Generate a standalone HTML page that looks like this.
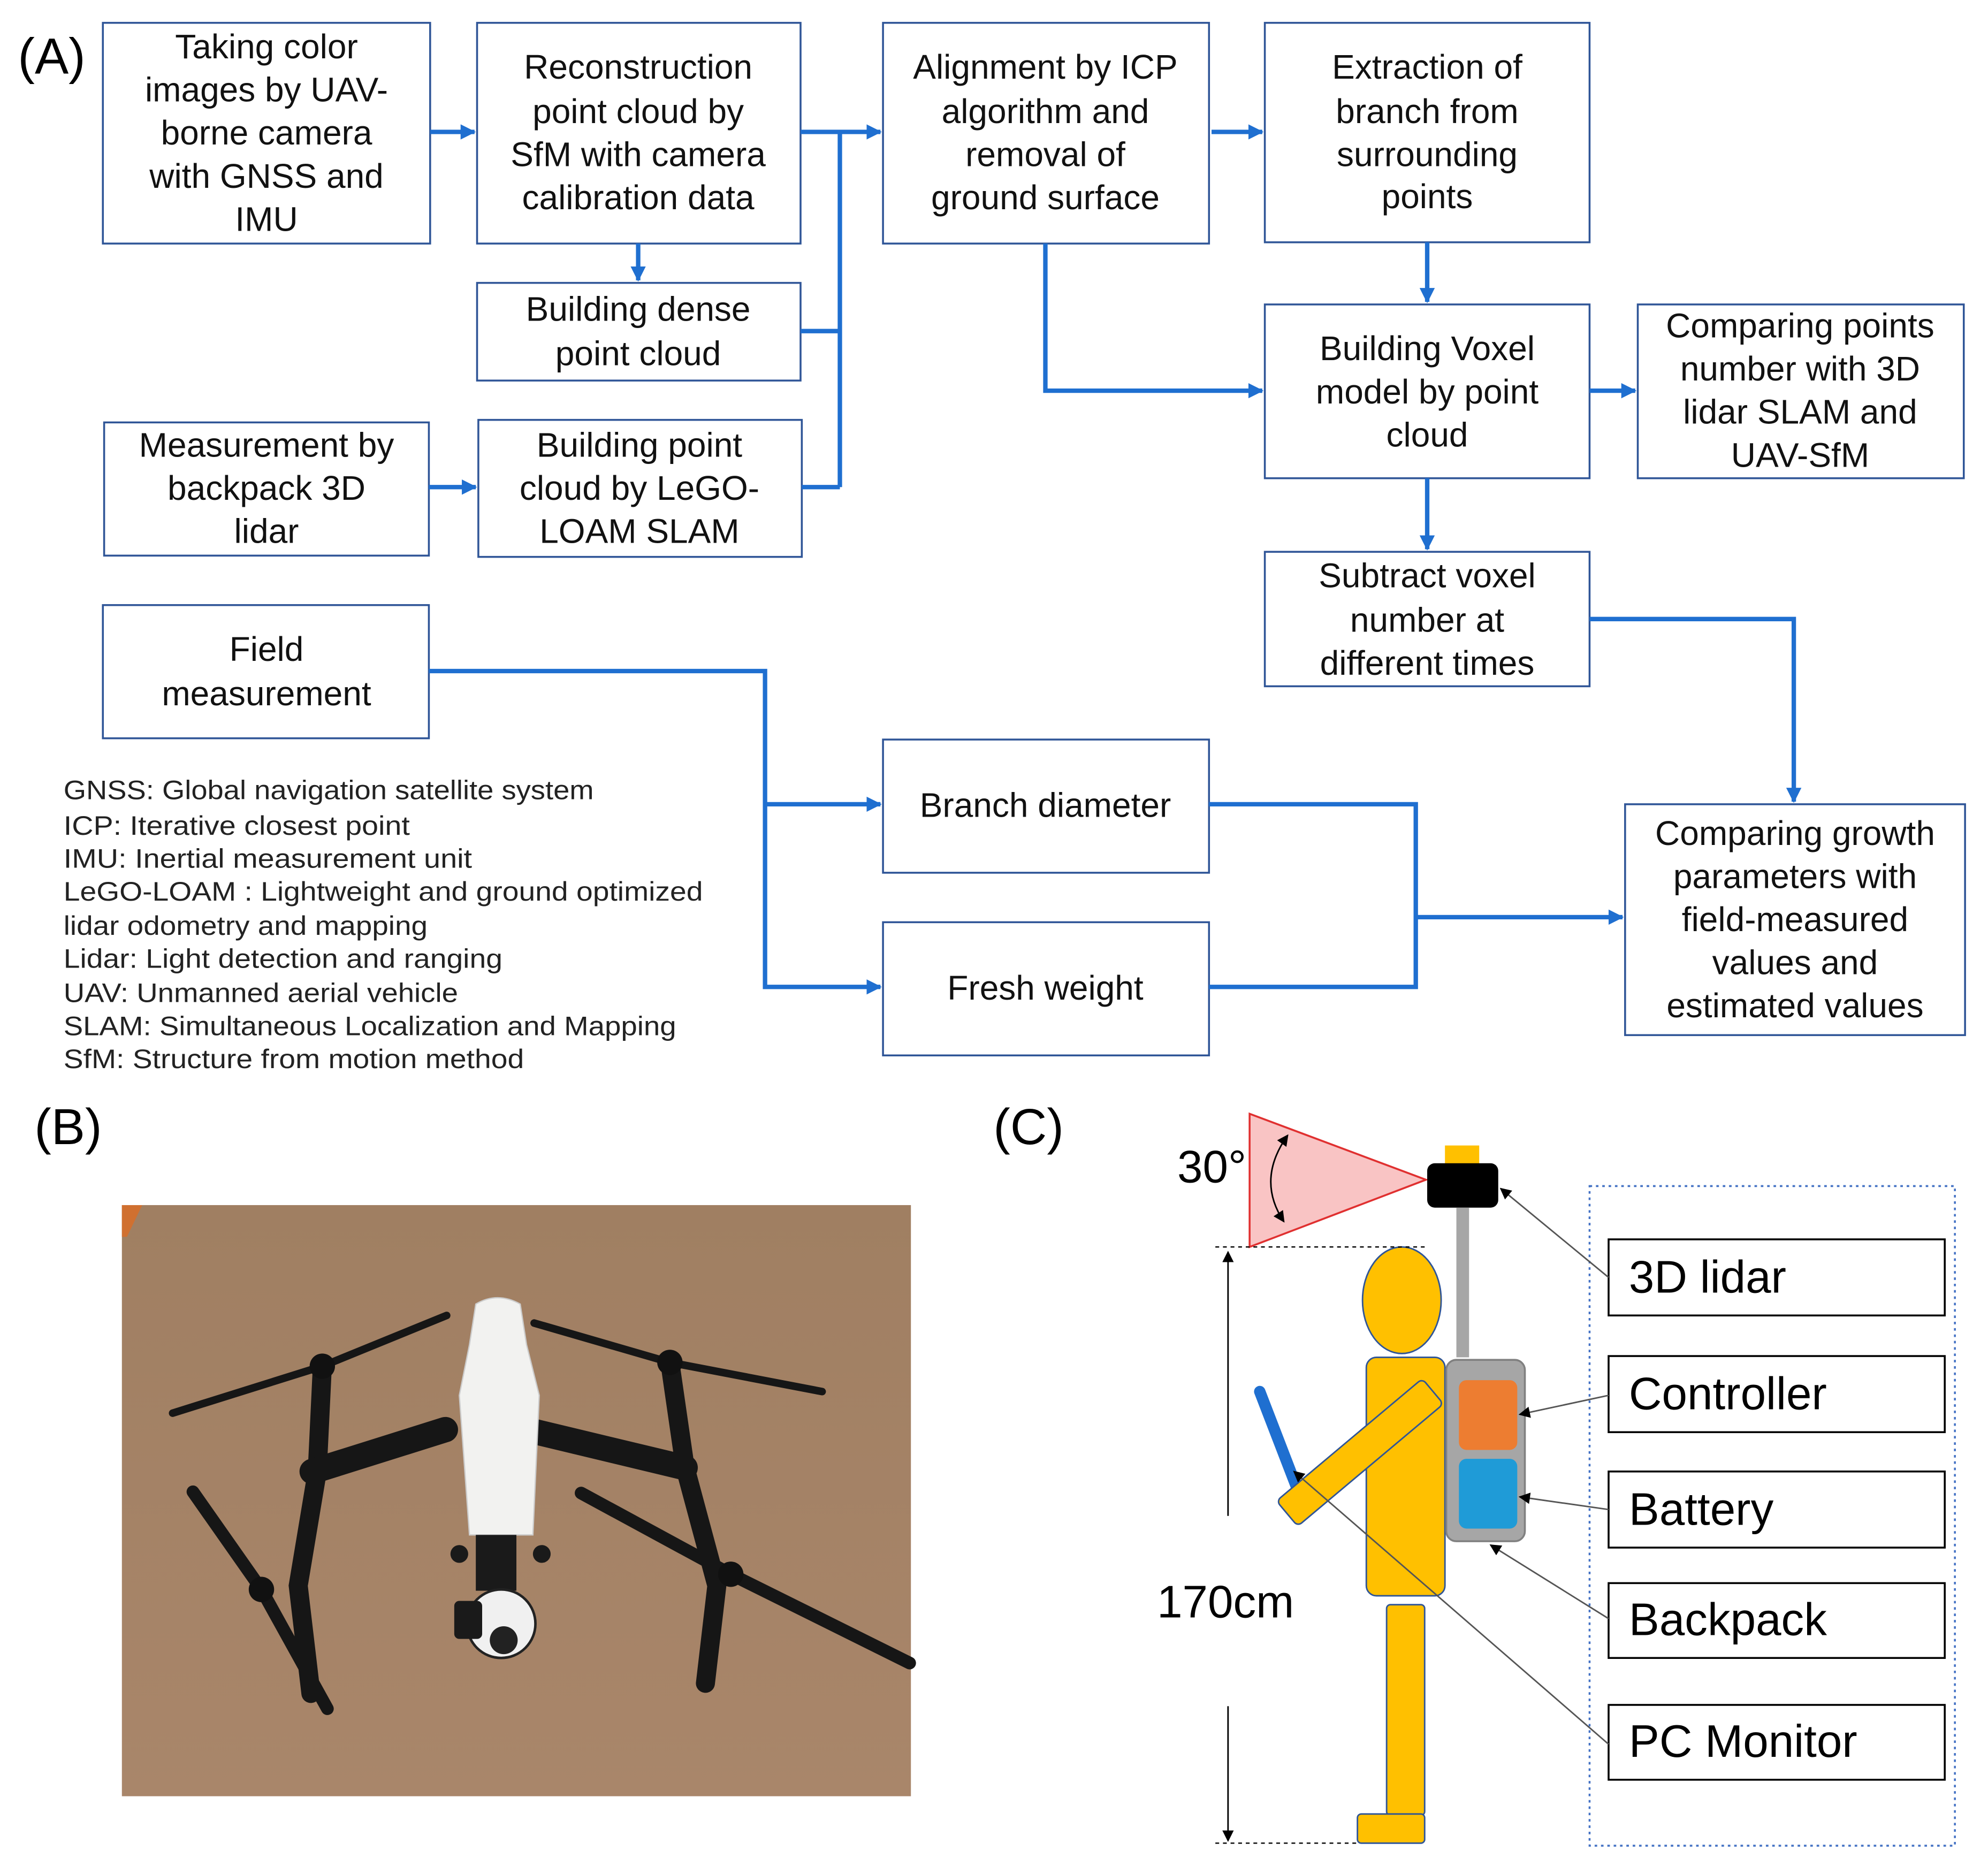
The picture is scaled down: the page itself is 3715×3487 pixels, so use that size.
<!DOCTYPE html>
<html><head><meta charset="utf-8"><style>
html,body{margin:0;padding:0;background:#fff}
svg{display:block}
text{font-family:"Liberation Sans",sans-serif}
</style></head><body>
<svg width="3715" height="3487" viewBox="0 0 1567 1471" xmlns="http://www.w3.org/2000/svg">
<defs>
<marker id="ab" markerWidth="12" markerHeight="12" refX="11" refY="6" orient="auto" markerUnits="userSpaceOnUse"><path d="M0,0 L12,6 L0,12 z" fill="#1f6fd0"/></marker>
<marker id="ak" markerWidth="9" markerHeight="9" refX="8" refY="4.5" orient="auto" markerUnits="userSpaceOnUse"><path d="M0,0 L9,4.5 L0,9 z" fill="#000"/></marker>
<marker id="ak2" markerWidth="9" markerHeight="9" refX="1" refY="4.5" orient="auto" markerUnits="userSpaceOnUse"><path d="M9,0 L0,4.5 L9,9 z" fill="#000"/></marker>
<linearGradient id="fl" x1="0" y1="0" x2="0" y2="1"><stop offset="0" stop-color="#a07f62"/><stop offset="1" stop-color="#a9866a"/></linearGradient>
</defs>
<text x="14" y="58" font-size="40">(A)</text>
<g fill="#fff" stroke="#2f5597" stroke-width="1.5">
<rect x="81" y="18" width="258" height="174"/>
<rect x="376" y="18" width="255" height="174"/>
<rect x="696" y="18" width="257" height="174"/>
<rect x="997" y="18" width="256" height="173"/>
<rect x="376" y="223" width="255" height="77"/>
<rect x="82" y="333" width="256" height="105"/>
<rect x="377" y="331" width="255" height="108"/>
<rect x="997" y="240" width="256" height="137"/>
<rect x="1291" y="240" width="257" height="137"/>
<rect x="997" y="435" width="256" height="106"/>
<rect x="81" y="477" width="257" height="105"/>
<rect x="696" y="583" width="257" height="105"/>
<rect x="696" y="727" width="257" height="105"/>
<rect x="1281" y="634" width="268" height="182"/>
</g>
<g font-size="27" text-anchor="middle" fill="#111">
<text x="210" y="46">Taking color</text><text x="210" y="80">images by UAV-</text><text x="210" y="114">borne camera</text><text x="210" y="148">with GNSS and</text><text x="210" y="182">IMU</text>
<text x="503" y="62">Reconstruction</text><text x="503" y="97">point cloud by</text><text x="503" y="131">SfM with camera</text><text x="503" y="165">calibration data</text>
<text x="824" y="62">Alignment by ICP</text><text x="824" y="97">algorithm and</text><text x="824" y="131">removal of</text><text x="824" y="165">ground surface</text>
<text x="1125" y="62">Extraction of</text><text x="1125" y="97">branch from</text><text x="1125" y="131">surrounding</text><text x="1125" y="164">points</text>
<text x="503" y="253">Building dense</text><text x="503" y="288">point cloud</text>
<text x="210" y="360">Measurement by</text><text x="210" y="394">backpack  3D</text><text x="210" y="428">lidar</text>
<text x="504" y="360">Building point</text><text x="504" y="394">cloud by LeGO-</text><text x="504" y="428">LOAM SLAM</text>
<text x="1125" y="284">Building Voxel</text><text x="1125" y="318">model by point</text><text x="1125" y="352">cloud</text>
<text x="1419" y="266">Comparing points</text><text x="1419" y="300">number with 3D</text><text x="1419" y="334">lidar SLAM and</text><text x="1419" y="368">UAV-SfM</text>
<text x="1125" y="463">Subtract voxel</text><text x="1125" y="498">number at</text><text x="1125" y="532">different times</text>
<text x="210" y="521">Field</text><text x="210" y="556">measurement</text>
<text x="824" y="644">Branch diameter</text>
<text x="824" y="788">Fresh weight</text>
<text x="1415" y="666">Comparing growth</text><text x="1415" y="700">parameters with</text><text x="1415" y="734">field-measured</text><text x="1415" y="768">values and</text><text x="1415" y="802">estimated values</text>
</g>
<g stroke="#1f6fd0" stroke-width="3.5" fill="none">
<path d="M339,104 H374" marker-end="url(#ab)"/>
<path d="M631,104 H694" marker-end="url(#ab)"/>
<path d="M662,104 V384 M631,261 H662 M632,384 H662"/>
<path d="M503,192 V221" marker-end="url(#ab)"/>
<path d="M338,384 H375" marker-end="url(#ab)"/>
<path d="M955,104 H995" marker-end="url(#ab)"/>
<path d="M1125,191 V238" marker-end="url(#ab)"/>
<path d="M824,192 V308 H995" marker-end="url(#ab)"/>
<path d="M1253,308 H1289" marker-end="url(#ab)"/>
<path d="M1125,377 V433" marker-end="url(#ab)"/>
<path d="M1253,488 H1414 V632" marker-end="url(#ab)"/>
<path d="M338,529 H603 V778 H694" marker-end="url(#ab)"/>
<path d="M603,634 H694" marker-end="url(#ab)"/>
<path d="M953,634 H1116 V778 H953"/>
<path d="M1116,723 H1279" marker-end="url(#ab)"/>
</g>
<g font-size="21" fill="#222">
<text x="50" y="630" textLength="418" lengthAdjust="spacingAndGlyphs">GNSS: Global navigation satellite system</text>
<text x="50" y="658" textLength="273" lengthAdjust="spacingAndGlyphs">ICP: Iterative closest point</text>
<text x="50" y="684" textLength="322" lengthAdjust="spacingAndGlyphs">IMU: Inertial measurement unit</text>
<text x="50" y="710" textLength="504" lengthAdjust="spacingAndGlyphs">LeGO-LOAM :  Lightweight and ground optimized</text>
<text x="50" y="737" textLength="287" lengthAdjust="spacingAndGlyphs">lidar odometry and mapping</text>
<text x="50" y="763" textLength="346" lengthAdjust="spacingAndGlyphs">Lidar: Light detection and ranging</text>
<text x="50" y="790" textLength="311" lengthAdjust="spacingAndGlyphs">UAV: Unmanned aerial vehicle</text>
<text x="50" y="816" textLength="483" lengthAdjust="spacingAndGlyphs">SLAM: Simultaneous Localization and Mapping</text>
<text x="50" y="842" textLength="363" lengthAdjust="spacingAndGlyphs">SfM: Structure from motion method</text>
</g>
<text x="27" y="902" font-size="40">(B)</text>
<text x="783" y="902" font-size="40">(C)</text>
<!-- photo -->
<rect x="96" y="950" width="622" height="466" fill="url(#fl)"/>
<path d="M96,950 H112 L100,975 H96 Z" fill="#d07030"/>
<g stroke="#161616" stroke-linecap="round" fill="none">
<path d="M136,1114 L254,1077 L352,1037" stroke-width="6"/>
<path d="M421,1043 L528,1074 L648,1097" stroke-width="6"/>
<path d="M152,1176 L206,1253 L258,1347" stroke-width="10"/>
<path d="M458,1177 L576,1241 L717,1311" stroke-width="10"/>
<path d="M254,1077 L250,1160 L235,1250 L245,1335" stroke-width="15"/>
<path d="M528,1074 L540,1157 L565,1250 L556,1327" stroke-width="15"/>
<path d="M246,1160 L351,1127" stroke-width="20"/>
<path d="M415,1127 L540,1157" stroke-width="20"/>
</g>
<circle cx="254" cy="1077" r="10" fill="#111"/><circle cx="528" cy="1074" r="10" fill="#111"/>
<circle cx="206" cy="1253" r="10" fill="#111"/><circle cx="576" cy="1241" r="10" fill="#111"/>
<path d="M375,1028 Q392,1018 410,1028 L415,1060 L425,1100 L420,1210 H370 L362,1100 L370,1060 Z" fill="#f2f2f0" stroke="#ccc"/>
<rect x="375" y="1210" width="32" height="44" fill="#1a1a1a"/>
<circle cx="362" cy="1225" r="7" fill="#1a1a1a"/><circle cx="427" cy="1225" r="7" fill="#1a1a1a"/>
<circle cx="395" cy="1280" r="27" fill="#f0f0f0" stroke="#222" stroke-width="2"/>
<rect x="358" y="1262" width="22" height="30" rx="4" fill="#1a1a1a"/>
<circle cx="397" cy="1293" r="11" fill="#222"/>
<!-- figure C -->
<polygon points="985,878 985,983 1124,930" fill="#f9c4c4" stroke="#e03030" stroke-width="1.5"/>
<path d="M1015,895 Q990,930 1012,963" fill="none" stroke="#000" stroke-width="1.2" marker-end="url(#ak)" marker-start="url(#ak2)"/>
<text x="928" y="932" font-size="36">30°</text>
<rect x="1139" y="903" width="27" height="16" fill="#ffc000"/>
<rect x="1125" y="917" width="56" height="35" rx="6" fill="#000"/>
<rect x="1148" y="952" width="10" height="118" fill="#a6a6a6"/>
<ellipse cx="1105" cy="1025" rx="31" ry="42" fill="#ffc000" stroke="#2f5597" stroke-width="1.2"/>
<rect x="1077" y="1070" width="62" height="188" rx="8" fill="#ffc000" stroke="#2f5597" stroke-width="1.2"/>
<rect x="1093" y="1265" width="30" height="166" rx="3" fill="#ffc000" stroke="#2f5597" stroke-width="1.2"/>
<rect x="1070" y="1430" width="53" height="23" rx="3" fill="#ffc000" stroke="#2f5597" stroke-width="1.2"/>
<rect x="1140" y="1072" width="62" height="143" rx="8" fill="#a6a6a6" stroke="#808080" stroke-width="1.5"/>
<rect x="1150" y="1088" width="46" height="55" rx="6" fill="#ed7d31"/>
<rect x="1150" y="1150" width="46" height="55" rx="6" fill="#1f9bd7"/>
<path d="M993,1097 L1025,1180" stroke="#1f6fd0" stroke-width="9" stroke-linecap="round"/>
<g transform="rotate(-40 1072 1145)"><rect x="997" y="1132" width="150" height="26" rx="4" fill="#ffc000" stroke="#2f5597" stroke-width="1.2"/></g>
<rect x="1253" y="935" width="288" height="520" fill="none" stroke="#4472c4" stroke-width="1.5" stroke-dasharray="2,3"/>
<g fill="#fff" stroke="#000" stroke-width="1.5">
<rect x="1268" y="977" width="265" height="60"/>
<rect x="1268" y="1069" width="265" height="60"/>
<rect x="1268" y="1160" width="265" height="60"/>
<rect x="1268" y="1248" width="265" height="59"/>
<rect x="1268" y="1344" width="265" height="59"/>
</g>
<g font-size="36" fill="#000">
<text x="1284" y="1019">3D lidar</text>
<text x="1284" y="1111">Controller</text>
<text x="1284" y="1202">Battery</text>
<text x="1284" y="1289">Backpack</text>
<text x="1284" y="1385">PC Monitor</text>
</g>
<g stroke="#555" stroke-width="1.2" fill="none">
<path d="M1268,1007 L1183,937" marker-end="url(#ak)"/>
<path d="M1268,1100 L1198,1115" marker-end="url(#ak)"/>
<path d="M1268,1190 L1198,1180" marker-end="url(#ak)"/>
<path d="M1268,1276 L1175,1218" marker-end="url(#ak)"/>
<path d="M1268,1375 L1020,1160" marker-end="url(#ak)"/>
</g>
<path d="M968,1195 V987" stroke="#000" stroke-width="1.2" marker-end="url(#ak)"/>
<path d="M968,1345 V1451" stroke="#000" stroke-width="1.2" marker-end="url(#ak)"/>
<path d="M958,983 H1124 M958,1453 H1070" stroke="#000" stroke-width="1" stroke-dasharray="3,3"/>
<text x="912" y="1275" font-size="36">170cm</text>
</svg>
</body></html>
